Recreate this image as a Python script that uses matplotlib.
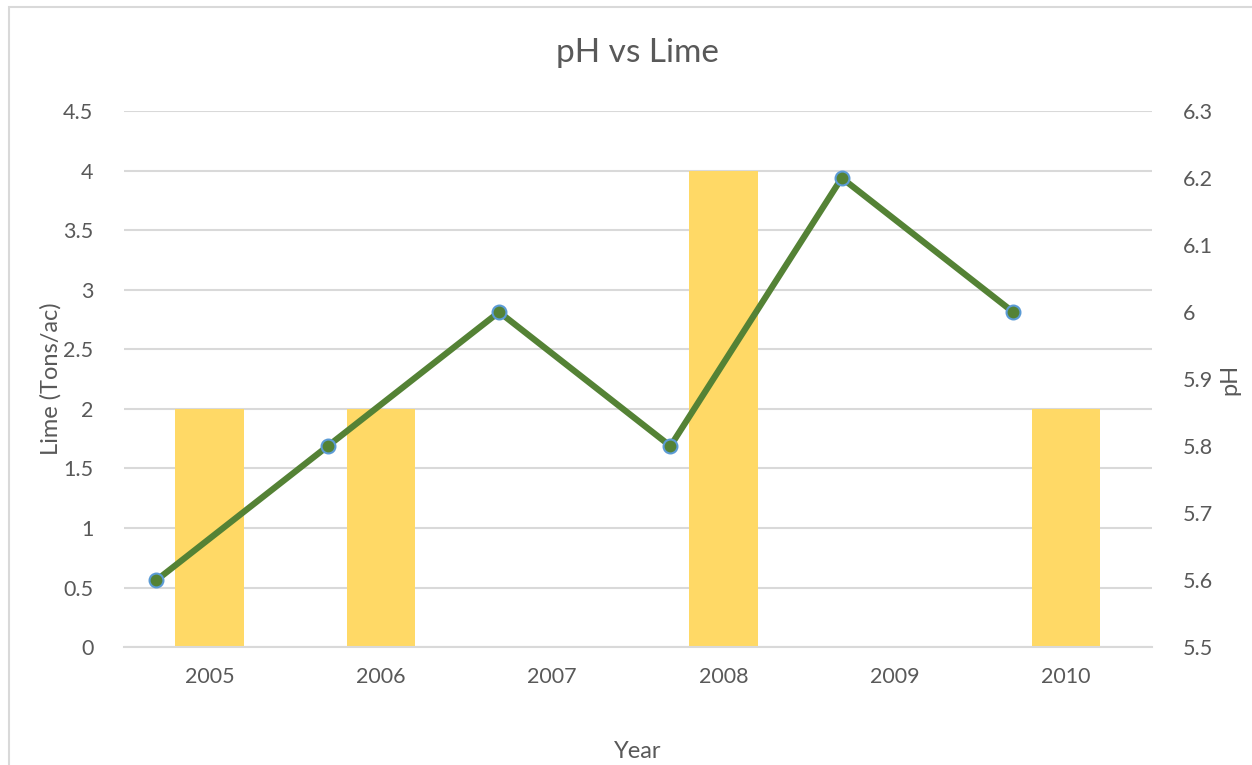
import matplotlib.pyplot as plt
import numpy as np
from matplotlib.patches import Rectangle

years = ["2005", "2006", "2007", "2008", "2009", "2010"]
lime = [2, 2, 0, 4, 0, 2]
ph = [5.6, 5.8, 6.0, 5.8, 6.2, 6.0]

txt = "#595959"
plt.rcParams['font.family'] = ['Lato', 'DejaVu Sans']

fig = plt.figure(figsize=(12.52, 7.65), dpi=100)
ax = fig.add_axes([0.099, 0.154, 0.821, 0.701])
ax2 = ax.twinx()

x = np.arange(len(years))
ax.bar(x, lime, width=0.4, color="#FFD966", zorder=2)
ax.set_xlim(-0.5, len(years) - 0.5)
ax.set_ylim(0, 4.5)
ax.set_yticks(np.arange(0, 4.51, 0.5))
ax.set_yticklabels(["0", "0.5", "1", "1.5", "2", "2.5", "3", "3.5", "4", "4.5"])
ax.set_xticks(x)
ax.set_xticklabels(years)
ax.grid(axis="y", color="#D9D9D9", linewidth=1.5, zorder=0)
ax.set_axisbelow(True)

# pH line sits a bit left of each category
ax2.plot(x - 0.31, ph, color="#548235", linewidth=4.5, marker="o", markersize=10,
         markerfacecolor="#548235", markeredgecolor="#5B9BD5", markeredgewidth=1.5, zorder=3)
ax2.set_ylim(5.5, 6.3)
ax2.set_yticks(np.arange(5.5, 6.31, 0.1))
ax2.set_yticklabels(["5.5", "5.6", "5.7", "5.8", "5.9", "6", "6.1", "6.2", "6.3"])

for a in (ax, ax2):
    for s in a.spines.values():
        s.set_visible(False)
    a.tick_params(length=0, labelsize=15.5, colors=txt)
ax.spines["bottom"].set_visible(True)
ax.spines["bottom"].set_color("#D9D9D9")
ax.spines["bottom"].set_linewidth(1.5)
ax.tick_params(axis="y", pad=22)
ax.tick_params(axis="x", pad=14)
ax2.tick_params(axis="y", pad=22)

ax.set_ylabel("Lime (Tons/ac)", fontsize=17, color=txt)
ax.yaxis.set_label_coords(-0.061, 0.5)
ax2.set_ylabel("pH", fontsize=17, color=txt, rotation=90)
ax2.yaxis.set_label_coords(1.066, 0.5)
ax.set_xlabel("Year", fontsize=17, color=txt)
ax.xaxis.set_label_coords(0.5, -0.175)
ax.set_title("pH vs Lime", fontsize=24, color=txt, pad=35)

fig.patches.append(Rectangle((9 / 1252, -0.1), 1.2, 1 - 7 / 765 + 0.1, transform=fig.transFigure,
                             fill=False, edgecolor="#D9D9D9", linewidth=1.5))

fig.savefig("out.png", dpi=100)
